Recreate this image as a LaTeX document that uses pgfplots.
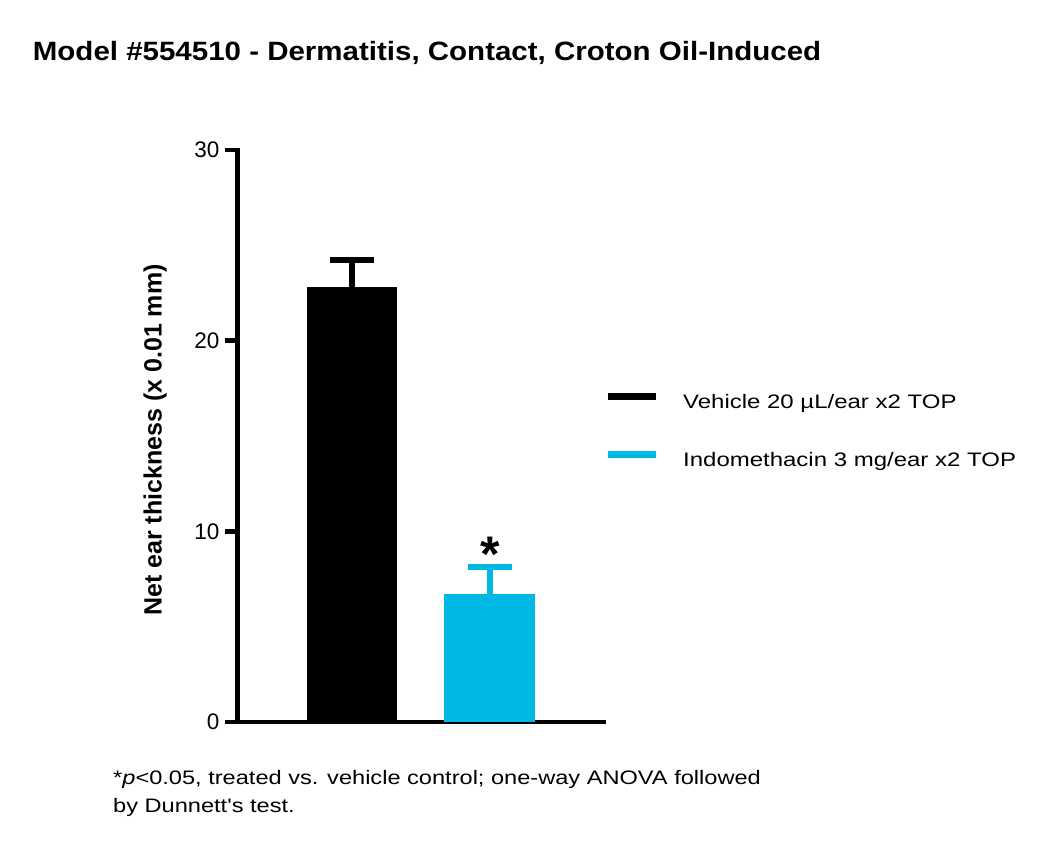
\documentclass[border=0pt]{standalone}
\usepackage{fontspec}
\setmainfont{Liberation Sans}
\newfontfamily\titlefont[FakeStretch=1.113]{Liberation Sans}
\newfontfamily\legfont[FakeStretch=1.23]{Liberation Sans}
\newfontfamily\notefont[FakeStretch=1.21]{Liberation Sans}
\usepackage{pgfplots}
\pgfplotsset{compat=1.18}
\definecolor{barcyan}{RGB}{0,184,228}
\begin{document}
\begin{tikzpicture}
\useasboundingbox (0,0) rectangle (1050bp,853bp);
\node[anchor=base west, font=\titlefont\bfseries\fontsize{26.5bp}{30bp}\selectfont, inner sep=0pt] at (32.7bp,792bp) {Model \#554510 - Dermatitis, Contact, Croton Oil-Induced};
\node[anchor=base west, font=\notefont\fontsize{19.5bp}{24bp}\selectfont, inner sep=0pt] at (113bp,68bp) {*\textit{p}<0.05, treated vs. vehicle control; one-way ANOVA followed};
\node[anchor=base west, font=\notefont\fontsize{19.5bp}{24bp}\selectfont, inner sep=0pt] at (113bp,40bp) {by Dunnett's test.};
\begin{axis}[
  at={(237.5bp,131bp)}, anchor=south west,
  scale only axis, width=366.5bp, height=572bp,
  xmin=0.167, xmax=2.83, ymin=0, ymax=30,
  axis x line=bottom, axis y line=left,
  axis line style={line width=4.5bp, -, line cap=rect},
  xtick=\empty, ytick={0,10,20,30},
  ytick style={line width=4.5bp, black},
  major tick length=13bp,
  ytick align=outside,
  /pgf/number format/assume math mode=true,
  yticklabel style={font=\fontsize{22.5bp}{27bp}\selectfont, inner sep=0pt, xshift=-5bp},
  ylabel={Net ear thickness (x 0.01 mm)},
  every axis y label/.style={at={(axis description cs:-0.2245,0.493)}, rotate=90, anchor=center, font=\bfseries\fontsize{25bp}{29bp}\selectfont},
  ybar, bar shift=0pt, bar width=90.7bp,
  legend style={draw=none, fill=none, at={(axis description cs:0.9999,0.5752)}, anchor=north west,
    inner sep=0pt, row sep=38bp, font=\legfont\fontsize{19.5bp}{24bp}\selectfont,
    nodes={inner sep=0pt, text height=14bp, text depth=4bp},
    /tikz/every odd column/.append style={column sep=24bp}},
  legend cell align=left,
]
\addplot[fill=black, draw=none,
  legend image code/.code={\draw[line width=7bp, black] (0bp,7bp) -- (48bp,7bp);},
  error bars/.cd, y dir=plus, y explicit,
  error bar style={line width=6bp, black},
  error mark options={rotate=90, mark size=22bp, line width=6bp, black}]
  coordinates {(1,22.83) +- (0,1.41)};
\addlegendentry{Vehicle 20 \textmu L/ear x2 TOP}
\addplot[fill=barcyan, draw=none,
  legend image code/.code={\draw[line width=7bp, barcyan] (0bp,7bp) -- (48bp,7bp);},
  error bars/.cd, y dir=plus, y explicit,
  error bar style={line width=6bp, barcyan},
  error mark options={rotate=90, mark size=22bp, line width=6bp, barcyan}]
  coordinates {(2,6.71) +- (0,1.42)};
\addlegendentry{Indomethacin 3 mg/ear x2 TOP}
\node[anchor=base, font=\bfseries\fontsize{50bp}{50bp}\selectfont, inner sep=0pt] at (axis cs:2,7.88) {*};
\end{axis}
\end{tikzpicture}
\end{document}
